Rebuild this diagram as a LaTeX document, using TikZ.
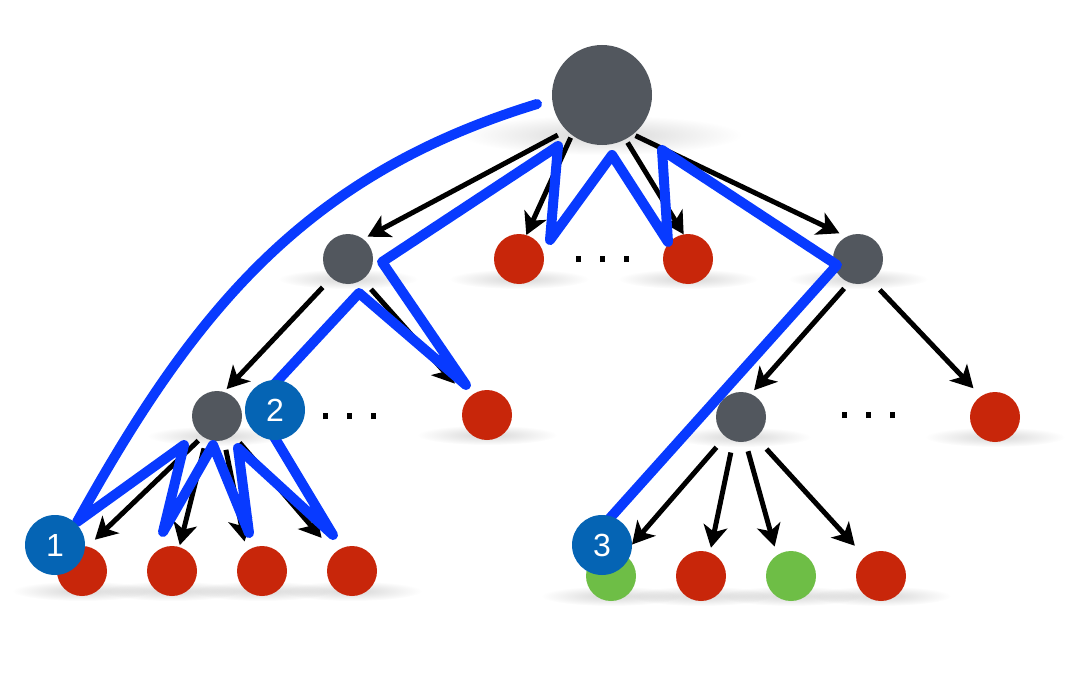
\documentclass[tikz,border=0pt]{standalone}
\usepackage{fontspec}
\setsansfont{Liberation Sans}
\usetikzlibrary{arrows.meta, fadings, backgrounds}
\definecolor{innernode}{RGB}{82, 87, 94}
\definecolor{leafred}{RGB}{200, 38, 10}
\definecolor{leafgreen}{RGB}{110, 190, 70}
\definecolor{walkblue}{RGB}{8, 58, 255}
\definecolor{stepblue}{RGB}{5, 100, 180}
\tikzfading[name=softspot, inner color=transparent!0, outer color=transparent!100]

\tikzset{
	treenode/.style={circle, fill=innernode, inner sep=0pt, outer sep=0pt, minimum size=50pt},
	rootnode/.style={treenode, minimum size=100pt},
	redleaf/.style={treenode, fill=leafred},
	greenleaf/.style={treenode, fill=leafgreen},
	stepbadge/.style={circle, fill=stepblue, inner sep=0pt, outer sep=0pt, minimum size=60pt,
		text=white, font=\sffamily\fontsize{32}{32}\selectfont},
	arr/.style={draw=black, line width=5pt, -{Stealth[length=22pt, width=24pt, inset=6pt]}},
	walk/.style={draw=walkblue, line width=10pt, line cap=round, line join=round},
	moredots/.style={inner sep=0pt},
}

\begin{document}
\begin{tikzpicture}[x=1pt, y=-1pt]
			\useasboundingbox (0,0) rectangle (1086,698);
			\def\dotsq{\rule{5pt}{6pt}}

			% root and first level
			\node[rootnode]  (root)  at (602, 95)  {};
			\node[treenode]  (inL)   at (348, 259) {};
			\node[redleaf]   (leafA) at (519, 259) {};
			\node[redleaf]   (leafB) at (688, 259) {};
			\node[treenode]  (inR)   at (858, 259) {};
			% second level
			\node[treenode]  (inLL)  at (217, 416) {};
			\node[redleaf]   (leafC) at (487, 415) {};
			\node[treenode]  (inRL)  at (741, 417) {};
			\node[redleaf]   (leafD) at (995, 417) {};
			% bottom row, left
			\node[redleaf]   (lfL1)  at (82,  571) {};
			\node[redleaf]   (lfL2)  at (172, 571) {};
			\node[redleaf]   (lfL3)  at (262, 571) {};
			\node[redleaf]   (lfL4)  at (352, 571) {};
			% bottom row, right
			\node[greenleaf] (lfR1)  at (611, 576) {};
			\node[redleaf]   (lfR2)  at (701, 576) {};
			\node[greenleaf] (lfR3)  at (791, 576) {};
			\node[redleaf]   (lfR4)  at (881, 576) {};

			% soft shadows under the nodes
			\begin{pgfonlayer}{background}
				\foreach \n/\r in {root/50, inL/25, leafA/25, leafB/25, inR/25, inLL/25, leafC/25,
					inRL/25, leafD/25, lfL1/25, lfL2/25, lfL3/25, lfL4/25, lfR1/25, lfR2/25, lfR3/25, lfR4/25}
					\fill[black, opacity=0.16, path fading=softspot]
						([yshift=-0.8*\r pt]\n) ellipse ({2.8*\r pt} and {0.4*\r pt});
			\end{pgfonlayer}

			\node[moredots] (dotsA) at (602, 259) {\dotsq\hspace{19pt}\dotsq\hspace{19pt}\dotsq};
			\node[moredots] (dotsB) at (349, 416) {\dotsq\hspace{19pt}\dotsq\hspace{19pt}\dotsq};
			\node[moredots] (dotsC) at (868, 415) {\dotsq\hspace{19pt}\dotsq\hspace{19pt}\dotsq};

			% tree edges
			\draw[arr, shorten <=10pt, shorten >=5pt]  (root.225) -- (inL.53);
			\draw[arr, shorten <=3pt]                  (root.233) -- (leafA.73);
			\draw[arr, shorten <=4pt]                  (root.298) -- (leafB.100);
			\draw[arr, shorten <=3pt, shorten >=8pt]   (root.308) -- (inR.117);
			\draw[arr, shorten <=13pt, shorten >=4pt]  (inL.229)  -- (inLL.74);
			\draw[arr, shorten <=13pt, shorten >=20pt] (inL.305)  -- (leafC.139);
			\draw[arr, shorten <=8pt, shorten >=5pt]   (inR.250)  -- (inRL.67);
			\draw[arr, shorten <=13pt, shorten >=11pt] (inR.301)  -- (leafD.124);
			\draw[arr, shorten <=6pt, shorten >=10pt]  (inLL.235) -- (lfL1.77);
			\draw[arr, shorten <=10pt, shorten >=2pt]  (inLL.245) -- (lfL2.73);
			\draw[arr, shorten <=10pt, shorten >=10pt] (inLL.286) -- (lfL3.128);
			\draw[arr, shorten <=10pt, shorten >=20pt] (inLL.310) -- (lfL4.134);
			\draw[arr, shorten <=14pt, shorten >=13pt] (inRL.232) -- (lfR1.60);
			\draw[arr, shorten <=12pt, shorten >=5pt]  (inRL.252) -- (lfR2.69);
			\draw[arr, shorten <=10pt, shorten >=9pt]  (inRL.280) -- (lfR3.124);
			\draw[arr, shorten <=16pt, shorten >=15pt] (inRL.306) -- (lfR4.130);

			% the blue walk
			\coordinate (w0)  at (537, 104);
			\coordinate (w1)  at (77,  522);
			\coordinate (w2)  at (184, 445);
			\coordinate (w3)  at (163, 532);
			\coordinate (w4)  at (213, 445);
			\coordinate (w5)  at (249, 533);
			\coordinate (w6)  at (238, 448);
			\coordinate (w7)  at (333, 535);
			\coordinate (w8)  at (255, 405);
			\coordinate (w9)  at (359, 293);
			\coordinate (w10) at (466, 385);
			\coordinate (w11) at (382, 262);
			\coordinate (w12) at (558, 146);
			\coordinate (w13) at (550, 240);
			\coordinate (w14) at (612, 155);
			\coordinate (w15) at (668, 242);
			\coordinate (w16) at (662, 150);
			\coordinate (w17) at (837, 265);
			\coordinate (w18) at (610, 518);
			\draw[walk] (w0) to[out=197, in=61] (w1) -- (w2) -- (w3) -- (w4) -- (w5) -- (w6)
				-- (w7) -- (w8) -- (w9) -- (w10) -- (w11) -- (w12) -- (w13) -- (w14)
				-- (w15) -- (w16) -- (w17) -- (w18);

			% step badges
			\node[stepbadge] (stepOne)   at (55,  545) {1};
			\node[stepbadge] (stepTwo)   at (275, 410) {2};
			\node[stepbadge] (stepThree) at (602, 545) {3};

		\end{tikzpicture}
\end{document}
